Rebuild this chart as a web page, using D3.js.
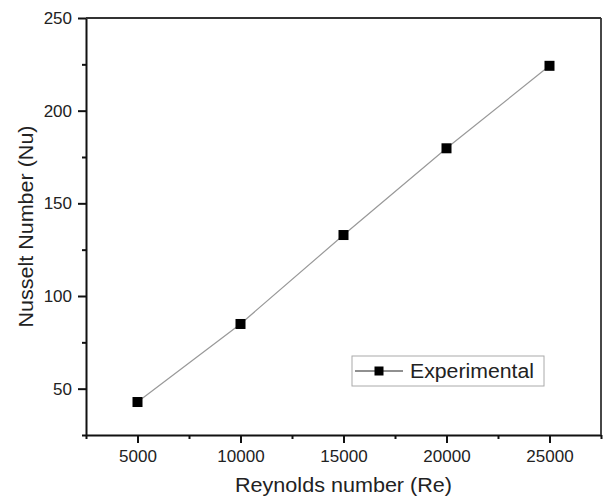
<!DOCTYPE html>
<meta charset="utf-8">
<style>
body { margin: 0; background: #fff; }
text { font-family: Arial, "Liberation Sans", Helvetica, sans-serif; fill: #222; }
.axis path, .axis line { fill: none; stroke: #111; stroke-width: 2; }
</style>
<body>
<script src="https://cdn.jsdelivr.net/npm/d3@7"></script>
<script>

var reynolds = [5000, 10000, 15000, 20000, 25000];
var nusselt = [42.8, 84.9, 132.9, 179.7, 224.2];
var xTicks = [5000, 10000, 15000, 20000, 25000];
var xMinor = [2500, 7500, 12500, 17500, 22500, 27500];
var yTicks = [50, 100, 150, 200, 250];
var yMinor = [25, 75, 125, 175, 225];
var seriesName = "Experimental";

var margin = {top: 18, right: 2, bottom: 65, left: 86},
    width = 603 - margin.left - margin.right,
    height = 500 - margin.top - margin.bottom;

var svg = d3.select("body").append("svg")
    .attr("width", 603)
    .attr("height", 500)
  .append("g")
    .attr("transform", "translate(" + margin.left + "," + margin.top + ")");

var x = d3.scaleLinear().domain([2500, 27500]).range([0, width]);
var y = d3.scaleLinear().domain([25, 250]).range([height, 0]);

var data = reynolds.map(function(r, i) { return {re: r, nu: nusselt[i]}; });

// minor ticks
svg.append("g")
    .attr("class", "axis")
    .attr("transform", "translate(0," + height + ")")
    .call(d3.axisBottom(x).tickValues(xMinor).tickSize(4).tickFormat(""))
    .select(".domain").remove();

svg.append("g")
    .attr("class", "axis")
    .call(d3.axisLeft(y).tickValues(yMinor).tickSize(4).tickFormat(""))
    .select(".domain").remove();

// major ticks
var xAxis = svg.append("g")
    .attr("class", "x axis")
    .attr("transform", "translate(0," + height + ")")
    .call(d3.axisBottom(x).tickValues(xTicks).tickSize(8).tickPadding(7)
        .tickSizeOuter(0).tickFormat(d3.format("d")));
xAxis.selectAll("text").style("font-size", "17px").attr("fill", "#222");

var yAxis = svg.append("g")
    .attr("class", "y axis")
    .call(d3.axisLeft(y).tickValues(yTicks).tickSize(8).tickPadding(6)
        .tickSizeOuter(0).tickFormat(d3.format("d")));
yAxis.selectAll("text").style("font-size", "17px").attr("fill", "#222");

// frame top and right
svg.append("line")
    .attr("x1", 0).attr("x2", width).attr("y1", 0).attr("y2", 0)
    .attr("stroke", "#333").attr("stroke-width", 1.8);
svg.append("line")
    .attr("x1", width).attr("x2", width).attr("y1", 0).attr("y2", height)
    .attr("stroke", "#333").attr("stroke-width", 1.8);

// line + markers
var line = d3.line()
    .x(function(d) { return x(d.re); })
    .y(function(d) { return y(d.nu); });

svg.append("path")
    .datum(data)
    .attr("d", line)
    .attr("fill", "none")
    .attr("stroke", "#999")
    .attr("stroke-width", 1.2);

svg.selectAll(".pt")
    .data(data)
  .enter().append("rect")
    .attr("class", "pt")
    .attr("x", function(d) { return x(d.re) - 5; })
    .attr("y", function(d) { return y(d.nu) - 5; })
    .attr("width", 10)
    .attr("height", 10)
    .attr("fill", "#000");

// axis titles
svg.append("text")
    .attr("x", width / 2)
    .attr("y", 474)
    .attr("text-anchor", "middle")
    .style("font-size", "19.5px")
    .attr("textLength", 217)
    .attr("lengthAdjust", "spacingAndGlyphs")
    .text("Reynolds number (Re)");

svg.append("text")
    .attr("transform", "translate(" + (32.5 - margin.left) + "," + (height / 2) + ") rotate(-90)")
    .attr("text-anchor", "middle")
    .style("font-size", "19.5px")
    .attr("textLength", 202)
    .attr("lengthAdjust", "spacingAndGlyphs")
    .text("Nusselt Number (Nu)");

// legend
var legend = svg.append("g")
    .attr("transform", "translate(" + (352 - margin.left) + "," + (356 - margin.top) + ")");

legend.append("rect")
    .attr("width", 192)
    .attr("height", 30)
    .attr("fill", "#fff")
    .attr("stroke", "#aaa")
    .attr("stroke-width", 1);

legend.append("line")
    .attr("x1", 3).attr("x2", 51).attr("y1", 15).attr("y2", 15)
    .attr("stroke", "#222").attr("stroke-width", 1.2);

legend.append("rect")
    .attr("x", 22.5).attr("y", 10.5)
    .attr("width", 9).attr("height", 9)
    .attr("fill", "#000");

legend.append("text")
    .attr("x", 58)
    .attr("y", 22)
    .style("font-size", "19.5px")
    .attr("textLength", 124)
    .attr("lengthAdjust", "spacingAndGlyphs")
    .text(seriesName);

</script>
</body>
</html>
